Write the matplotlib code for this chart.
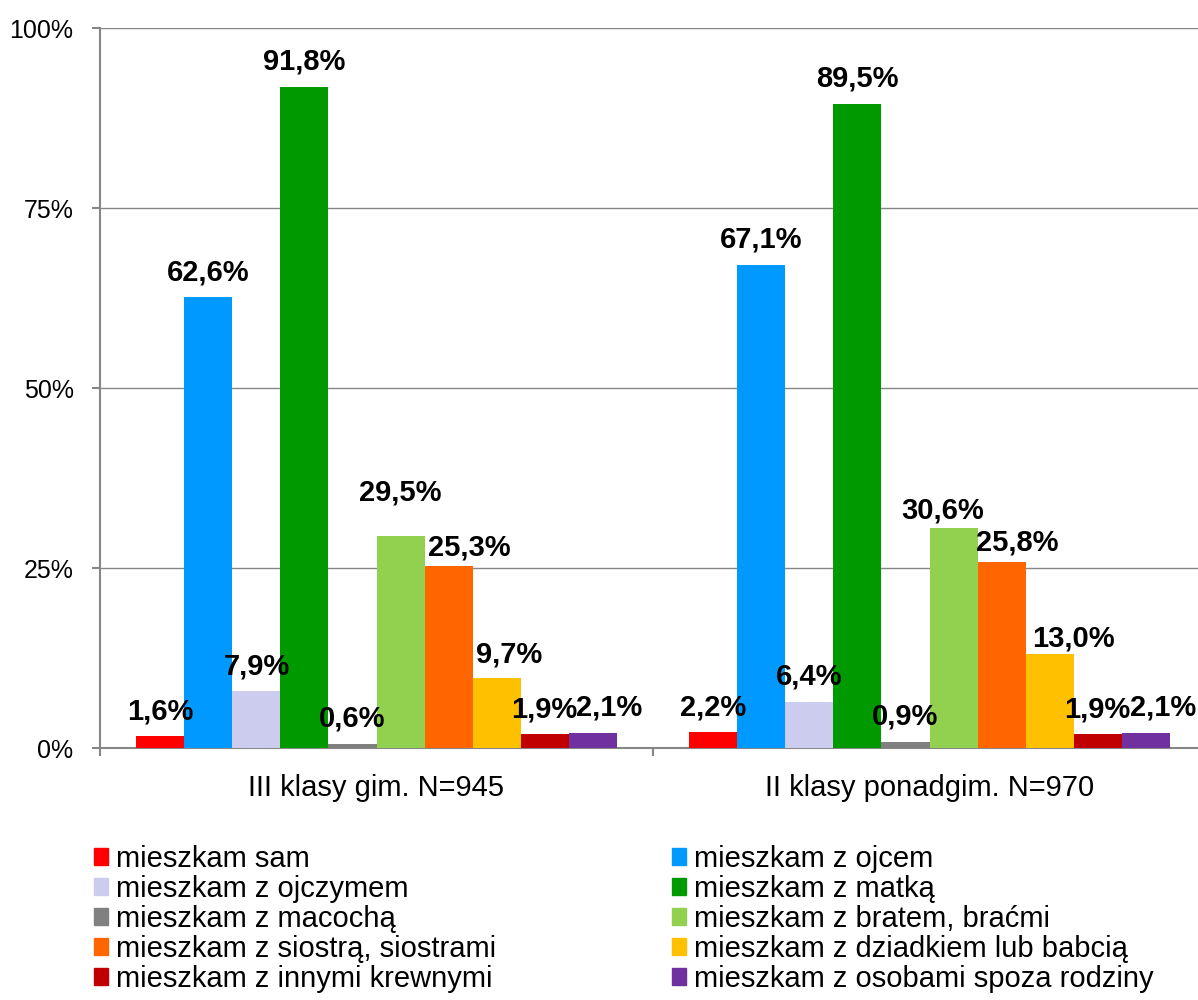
import matplotlib.pyplot as plt
from matplotlib.patches import Rectangle
import numpy as np

plt.rcParams['font.family'] = ['Liberation Sans', 'DejaVu Sans']

groups = ["III klasy gim. N=945", "II klasy ponadgim. N=970"]
series = ["mieszkam sam", "mieszkam z ojcem", "mieszkam z ojczymem", "mieszkam z matką",
          "mieszkam z macochą", "mieszkam z bratem, braćmi", "mieszkam z siostrą, siostrami",
          "mieszkam z dziadkiem lub babcią", "mieszkam z innymi krewnymi",
          "mieszkam z osobami spoza rodziny"]
gim = [1.6, 62.6, 7.9, 91.8, 0.6, 29.5, 25.3, 9.7, 1.9, 2.1]
ponadgim = [2.2, 67.1, 6.4, 89.5, 0.9, 30.6, 25.8, 13.0, 1.9, 2.1]
colors = ["#FF0000", "#0099FF", "#CCCCEE", "#009900", "#808080",
          "#92D050", "#FF6600", "#FFC000", "#C00000", "#7030A0"]

# label nudges in pixels (group, series) -> (dx, dy), like the hand-moved labels
nudge = {(0, 5): (0, 18), (0, 6): (21, -7), (0, 7): (13, -1), (0, 9): (17, 0),
         (1, 5): (-11, -8), (1, 6): (16, -5), (1, 7): (24, -9), (1, 9): (18, 0)}

fig = plt.figure(figsize=(11.98, 10), dpi=100)
ax = fig.add_axes([100 / 1198, 0.252, 1106 / 1198, 0.72])

x = np.arange(len(groups))
w = 0.0868
values = np.array([gim, ponadgim])
for i, name in enumerate(series):
    pos = x + (i - 4.5) * w
    bars = ax.bar(pos, values[:, i], w, color=colors[i], label=name, zorder=3)
    for g, (b, v) in enumerate(zip(bars, values[:, i])):
        dx, dy = nudge.get((g, i), (0, 0))
        ax.annotate(f"{v:.1f}".replace('.', ',') + '%',
                    (b.get_x() + b.get_width() / 2, v),
                    xytext=(dx * 0.72, 8 + dy * 0.72), textcoords='offset points',
                    ha='center', va='bottom', fontsize=21, fontweight='bold', zorder=4)

ax.set_xlim(-0.5, 1.5)
ax.set_ylim(0, 100)
ax.set_yticks([0, 25, 50, 75, 100])
ax.set_yticklabels([f"{t}%" for t in [0, 25, 50, 75, 100]])
ax.set_xticks(x)
ax.set_xticklabels(groups)
ax.set_xticks([-0.5, 0.5, 1.5], minor=True)
ax.tick_params(axis='x', which='major', length=0, pad=19, labelsize=21)
ax.tick_params(axis='x', which='minor', length=6, width=1.5, color='#868686')
ax.tick_params(axis='y', length=6, width=1.5, color='#868686', pad=13, labelsize=18)
ax.yaxis.grid(True, color='#868686', linewidth=1.0, zorder=0)
for s in ['top', 'right']:
    ax.spines[s].set_visible(False)
for s in ['left', 'bottom']:
    ax.spines[s].set_color('#868686')
    ax.spines[s].set_linewidth(1.5)

handles = [Rectangle((0, 0), 1, 1, color=c) for c in colors]
order = [0, 2, 4, 6, 8, 1, 3, 5, 7, 9]
fig.legend([handles[k] for k in order], [series[k] for k in order],
           ncol=2, loc='upper left', bbox_to_anchor=(0.066, 0.170),
           frameon=False, fontsize=21, handlelength=0.5, handleheight=0.5,
           handletextpad=0.28, columnspacing=6.0, labelspacing=0.07, borderpad=0)

fig.savefig('out.png', dpi=100)
